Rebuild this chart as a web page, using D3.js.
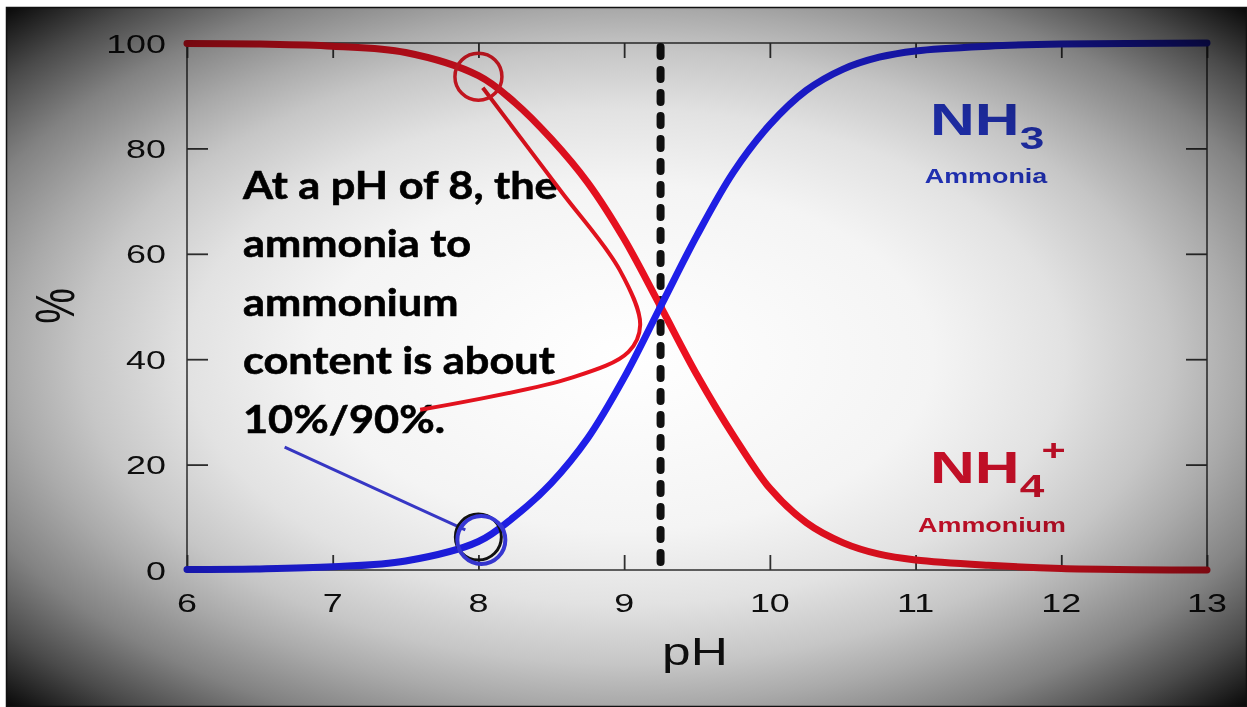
<!DOCTYPE html>
<html>
<head>
<meta charset="utf-8">
<script src="https://cdn.jsdelivr.net/npm/d3@7"></script>
<style>
  html, body { margin: 0; padding: 0; background: #fff; }
  svg { display: block; }
</style>
</head>
<body>
<div id="chart"></div>
<script>
// ticks
const phTicks = [6, 7, 8, 9, 10, 11, 12, 13];
const pctTicks = [0, 20, 40, 60, 80, 100];

// values
const phSamples = [6, 6.5, 7, 7.5, 8, 8.25, 8.5, 8.75, 9, 9.25, 9.5, 9.75, 10, 10.25, 10.5, 10.75, 11, 11.5, 12, 13];
const nh3Values = [0.1, 0.2, 0.6, 1.7, 5.4, 10.2, 16.5, 25, 36.5, 50, 63.5, 75.5, 84.5, 91, 95, 97.3, 98.5, 99.4, 99.8, 100];
const nh4Values = [99.9, 99.8, 99.4, 98.2, 93.8, 88.7, 81.8, 73.5, 62.8, 50, 37, 25.5, 15.5, 9, 5.2, 3, 1.9, 0.9, 0.3, 0];

const pKa = 9.25;

// annotation (in pH / % units)
const redCircleAt = [8, 93.6];
const blueCircleAt = [8.02, 5.7];
const redArrow = [[8.03, 91.5], [8.56, 72.1], [8.97, 56.9], [9.11, 46.5], [9.03, 41.4], [8.63, 36.4], [7.6, 30.4]];
const blueArrow = [[6.67, 23.3], [7.91, 7.6]];
const noteLines = ['At a pH of 8, the', 'ammonia to', 'ammonium', 'content is about', '10%/90%.'];

const W = 1247, H = 707;
const stretch = 1.38; // the original chart is stretched sideways

const svg = d3.select('#chart').append('svg')
    .attr('width', W)
    .attr('height', H);

// vignette
const defs = svg.append('defs');
const grad = defs.append('radialGradient')
    .attr('id', 'vig')
    .attr('cx', 0.5).attr('cy', 0.5).attr('r', 0.707);
[[0, '#ffffff'], [0.35, '#f4f4f4'], [0.5, '#e2e2e2'], [0.62, '#c6c6c6'], [0.7, '#aaaaaa'],
 [0.8, '#828282'], [0.9, '#4a4a4a'], [1, '#080808']].forEach(([o, c]) => {
    grad.append('stop').attr('offset', o).attr('stop-color', c);
});

const x = d3.scaleLinear().domain([6, 13]).range([187, 1207]);
const y = d3.scaleLinear().domain([0, 100]).range([570, 43]);

const plot = svg.append('g');

// frame box
plot.append('rect')
    .attr('x', x(6)).attr('y', y(100))
    .attr('width', x(13) - x(6)).attr('height', y(0) - y(100))
    .attr('fill', 'none')
    .attr('stroke', '#333')
    .attr('stroke-width', 1.5);

// axes with inward ticks
const axisStyle = g => {
    g.select('.domain').remove();
    g.selectAll('line').attr('stroke', '#333').attr('stroke-width', 1.8);
};
plot.append('g').attr('transform', `translate(0,${y(0)})`)
    .call(d3.axisBottom(x).tickValues(phTicks).tickSize(-15).tickFormat(''))
    .call(axisStyle);
plot.append('g').attr('transform', `translate(0,${y(100)})`)
    .call(d3.axisTop(x).tickValues(phTicks).tickSize(-15).tickFormat(''))
    .call(axisStyle);
plot.append('g').attr('transform', `translate(${x(6)},0)`)
    .call(d3.axisLeft(y).tickValues(pctTicks).tickSize(-21).tickFormat(''))
    .call(axisStyle);
plot.append('g').attr('transform', `translate(${x(13)},0)`)
    .call(d3.axisRight(y).tickValues(pctTicks).tickSize(-21).tickFormat(''))
    .call(axisStyle);

// tick labels
const labelFont = 'Liberation Sans, Arial, sans-serif';
plot.selectAll('.xlab').data(phTicks).enter().append('text')
    .attr('class', 'xlab')
    .attr('transform', d => `translate(${x(d)},612) scale(${stretch},1)`)
    .attr('text-anchor', 'middle')
    .attr('font-family', labelFont)
    .attr('font-size', 26)
    .attr('fill', '#111')
    .text(d => d);
plot.selectAll('.ylab').data(pctTicks).enter().append('text')
    .attr('class', 'ylab')
    .attr('transform', d => `translate(166,${y(d) + 9.5}) scale(${stretch},1)`)
    .attr('text-anchor', 'end')
    .attr('font-family', labelFont)
    .attr('font-size', 26)
    .attr('fill', '#111')
    .text(d => d);

// axis titles
plot.append('text')
    .attr('transform', `translate(695,665) scale(1.32,1)`)
    .attr('text-anchor', 'middle')
    .attr('font-family', labelFont)
    .attr('font-size', 39)
    .attr('fill', '#111')
    .text('pH');
plot.append('text')
    .attr('transform', `translate(74,306) scale(${stretch},1) rotate(-90)`)
    .attr('text-anchor', 'middle')
    .attr('font-family', labelFont)
    .attr('font-size', 40)
    .attr('fill', '#111')
    .text('%');

// pKa dashed line
plot.append('line')
    .attr('x1', x(pKa)).attr('x2', x(pKa))
    .attr('y1', y(100) + 4).attr('y2', y(0) - 4)
    .attr('stroke', '#111')
    .attr('stroke-width', 8)
    .attr('stroke-linecap', 'round')
    .attr('stroke-dasharray', '9 14');

// curves
const line = d3.line()
    .x(d => x(d[0]))
    .y(d => y(d[1]))
    .curve(d3.curveCatmullRom.alpha(0.5));

plot.append('path')
    .datum(phSamples.map((p, i) => [p, nh4Values[i]]))
    .attr('fill', 'none')
    .attr('stroke', '#ee1020')
    .attr('stroke-width', 7)
    .attr('stroke-linecap', 'round')
    .attr('d', line);

plot.append('path')
    .datum(phSamples.map((p, i) => [p, nh3Values[i]]))
    .attr('fill', 'none')
    .attr('stroke', '#1f1fee')
    .attr('stroke-width', 7)
    .attr('stroke-linecap', 'round')
    .attr('d', line);

// species labels
const species = [
    { main: 'NH', sub: '3', sup: null, name: 'Ammonia', color: '#2436c9', cx: 986, base: 135, nameBase: 183 },
    { main: 'NH', sub: '4', sup: '+', name: 'Ammonium', color: '#d3102a', cx: 992, base: 483, nameBase: 532 }
];
species.forEach(s => {
    const t = plot.append('text')
        .attr('transform', `translate(930,${s.base}) scale(${stretch},1)`)
        .attr('font-family', labelFont)
        .attr('font-weight', 'bold')
        .attr('font-size', 45)
        .attr('fill', s.color);
    t.append('tspan').text(s.main);
    t.append('tspan').attr('font-size', 32).attr('dy', 14).text(s.sub);
    if (s.sup) {
        t.append('tspan').attr('font-size', 30).attr('dy', -37).attr('dx', -2).text(s.sup);
    }
    plot.append('text')
        .attr('transform', `translate(${s.cx},${s.nameBase}) scale(${stretch},1)`)
        .attr('text-anchor', 'middle')
        .attr('font-family', labelFont)
        .attr('font-weight', 'bold')
        .attr('font-size', 19.5)
        .attr('fill', s.color)
        .text(s.name);
});

// annotation note
const note = plot.append('text')
    .attr('transform', 'translate(243,0) scale(1.14,1)')
    .attr('font-family', 'Lato, Carlito, sans-serif')
    .attr('font-weight', 'bold')
    .attr('font-size', 38)
    .attr('fill', '#000')
    .attr('stroke', '#000')
    .attr('stroke-width', 0.6);
noteLines.forEach((l, i) => {
    note.append('tspan').attr('x', 0).attr('y', 199 + i * 58.5).text(l);
});

// annotation arrows and circles
plot.append('path')
    .datum(redArrow)
    .attr('fill', 'none')
    .attr('stroke', '#e8121e')
    .attr('stroke-width', 4)
    .attr('d', d3.line().x(d => x(d[0])).y(d => y(d[1])).curve(d3.curveCatmullRom));
plot.append('circle')
    .attr('cx', x(redCircleAt[0])).attr('cy', y(redCircleAt[1]))
    .attr('r', 23.5)
    .attr('fill', 'none')
    .attr('stroke', '#ea1a26')
    .attr('stroke-width', 3.5);

plot.append('path')
    .datum(blueArrow)
    .attr('fill', 'none')
    .attr('stroke', '#3a3ad2')
    .attr('stroke-width', 3)
    .attr('d', d3.line().x(d => x(d[0])).y(d => y(d[1])));
plot.append('circle')
    .attr('cx', x(blueCircleAt[0]) - 3).attr('cy', y(blueCircleAt[1]) - 3)
    .attr('r', 23)
    .attr('fill', 'none')
    .attr('stroke', '#111')
    .attr('stroke-width', 3);
plot.append('circle')
    .attr('cx', x(blueCircleAt[0])).attr('cy', y(blueCircleAt[1]))
    .attr('r', 24)
    .attr('fill', 'none')
    .attr('stroke', '#3a3ae2')
    .attr('stroke-width', 4);

// vignette over everything
svg.append('rect')
    .attr('x', 6).attr('y', 7)
    .attr('width', W - 6).attr('height', H - 7)
    .attr('fill', 'url(#vig)')
    .style('mix-blend-mode', 'multiply');
svg.append('rect')
    .attr('x', 6.5).attr('y', 7.5)
    .attr('width', W - 7).attr('height', H - 8)
    .attr('fill', 'none')
    .attr('stroke', '#111')
    .attr('stroke-width', 1.5);
</script>
</body>
</html>
